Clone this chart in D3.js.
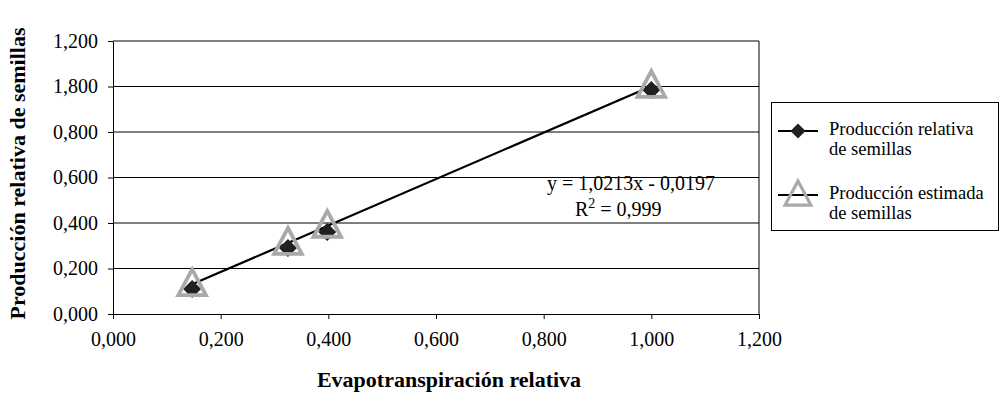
<!DOCTYPE html>
<html>
<head>
<meta charset="utf-8">
<script src="https://cdn.jsdelivr.net/npm/d3@7"></script>
<style>
  body { margin: 0; background: #fff; }
  svg text { font-family: "Times New Roman", "Liberation Serif", "DejaVu Serif", serif; }
</style>
</head>
<body>
<div id="chart"></div>
<script>
// data
const evapRel = [0.147, 0.325, 0.398, 1.0];
const prodRel = [0.110, 0.290, 0.360, 0.985];
const prodEst = [0.130, 0.312, 0.387, 1.002];
const xTicks = [0, 0.2, 0.4, 0.6, 0.8, 1.0, 1.2];
const xTickLabels = ['0,000', '0,200', '0,400', '0,600', '0,800', '1,000', '1,200'];
const yTicks = [0, 0.2, 0.4, 0.6, 0.8, 1.0, 1.2];
const yTickLabels = ['0,000', '0,200', '0,400', '0,600', '0,800', '1,800', '1,200'];
const fit = { slope: 1.0213, intercept: -0.0197 };
const seriesNames = [['Producción relativa', 'de semillas'], ['Producción estimada', 'de semillas']];

const W = 1000, H = 396;
const FONT = '"Times New Roman", "Liberation Serif", serif';
const svg = d3.select('#chart').append('svg').attr('width', W).attr('height', H)
  .attr('font-family', FONT);

const x = d3.scaleLinear().domain([0, 1.2]).range([113, 759]);
const y = d3.scaleLinear().domain([0, 1.2]).range([314, 41]);

// gridlines
svg.append('g')
  .selectAll('line')
  .data(yTicks.slice(1))
  .join('line')
  .attr('x1', x(0)).attr('x2', x(1.2))
  .attr('y1', (d) => y(d)).attr('y2', (d) => y(d))
  .attr('stroke', '#000').attr('stroke-width', 1);

// right border
svg.append('line')
  .attr('x1', x(1.2)).attr('x2', x(1.2))
  .attr('y1', y(1.2)).attr('y2', y(0))
  .attr('stroke', '#000').attr('stroke-width', 1);

// axes
svg.append('g')
  .attr('transform', `translate(0,${y(0)})`)
  .call(d3.axisBottom(x).tickValues(xTicks).tickFormat((d, i) => xTickLabels[i]).tickSize(5).tickPadding(13).tickSizeOuter(0))
  .attr('font-family', FONT).attr('font-size', 20)
  .call((a) => a.selectAll('text').attr('fill', '#000'))
  .call((a) => a.selectAll('line').attr('stroke', '#000'))
  .call((a) => a.select('.domain').attr('stroke', '#000'));

svg.append('g')
  .attr('transform', `translate(${x(0)},0)`)
  .call(d3.axisLeft(y).tickValues(yTicks).tickFormat((d, i) => yTickLabels[i]).tickSize(5).tickPadding(10).tickSizeOuter(0))
  .attr('font-family', FONT).attr('font-size', 20)
  .call((a) => a.selectAll('text').attr('fill', '#000'))
  .call((a) => a.selectAll('line').attr('stroke', '#000'))
  .call((a) => a.select('.domain').attr('stroke', '#000'));

// trendline
const x0 = d3.min(evapRel), x1 = d3.max(evapRel);
svg.append('line')
  .attr('x1', x(x0)).attr('y1', y(fit.slope * x0 + fit.intercept))
  .attr('x2', x(x1)).attr('y2', y(fit.slope * x1 + fit.intercept))
  .attr('stroke', '#000').attr('stroke-width', 2.2);

const diamond = (s) => `M0,${-s}L${s},0L0,${s}L${-s},0Z`;
const triangle = (s) => `M0,${-s}L${s * 0.92},${s * 0.72}L${-s * 0.92},${s * 0.72}Z`;

// relative production (black diamonds)
svg.append('g')
  .selectAll('path')
  .data(evapRel.map((d, i) => [d, prodRel[i]]))
  .join('path')
  .attr('transform', (d) => `translate(${x(d[0])},${y(d[1])})`)
  .attr('d', diamond(9))
  .attr('fill', '#231f20');

// estimated production (grey hollow triangles)
svg.append('g')
  .selectAll('path')
  .data(evapRel.map((d, i) => [d, prodEst[i]]))
  .join('path')
  .attr('transform', (d) => `translate(${x(d[0])},${y(d[1])})`)
  .attr('d', triangle(15))
  .attr('fill', 'none')
  .attr('stroke', '#a7a9ac')
  .attr('stroke-width', 3.8);

// equation
svg.append('text')
  .attr('x', 547).attr('y', 190)
  .attr('font-size', 20)
  .text('y = 1,0213x - 0,0197');
const r2 = svg.append('text')
  .attr('x', 575).attr('y', 216)
  .attr('font-size', 20);
r2.append('tspan').text('R');
r2.append('tspan').attr('dy', -8).attr('font-size', 14).text('2');
r2.append('tspan').attr('dy', 8).text(' = 0,999');

// axis titles
svg.append('text')
  .attr('x', 449).attr('y', 387)
  .attr('text-anchor', 'middle')
  .attr('font-size', 22).attr('font-weight', 700)
  .text('Evapotranspiración relativa');
svg.append('text')
  .attr('transform', `translate(25,${(y(0) + y(1.2)) / 2 - 4}) rotate(-90)`)
  .attr('text-anchor', 'middle')
  .attr('font-size', 22).attr('font-weight', 700)
  .text('Producción relativa de semillas');

// legend
const lg = svg.append('g');
lg.append('rect')
  .attr('x', 771.5).attr('y', 102.5).attr('width', 227).attr('height', 128)
  .attr('fill', '#fff').attr('stroke', '#000').attr('stroke-width', 1);
const rows = [131, 195];
rows.forEach((ry, i) => {
  lg.append('line')
    .attr('x1', 778).attr('x2', 818).attr('y1', ry).attr('y2', ry)
    .attr('stroke', '#000').attr('stroke-width', 2.2);
  if (i === 0) {
    lg.append('path').attr('transform', `translate(798,${ry})`).attr('d', diamond(7.5)).attr('fill', '#231f20');
  } else {
    lg.append('path').attr('transform', `translate(798,${ry})`).attr('d', triangle(14))
      .attr('fill', 'none').attr('stroke', '#a7a9ac').attr('stroke-width', 3.2);
  }
  lg.append('text').attr('x', 829).attr('y', ry + 4).attr('font-size', 18.5).text(seriesNames[i][0]);
  lg.append('text').attr('x', 829).attr('y', ry + 24).attr('font-size', 18.5).text(seriesNames[i][1]);
});
</script>
</body>
</html>
